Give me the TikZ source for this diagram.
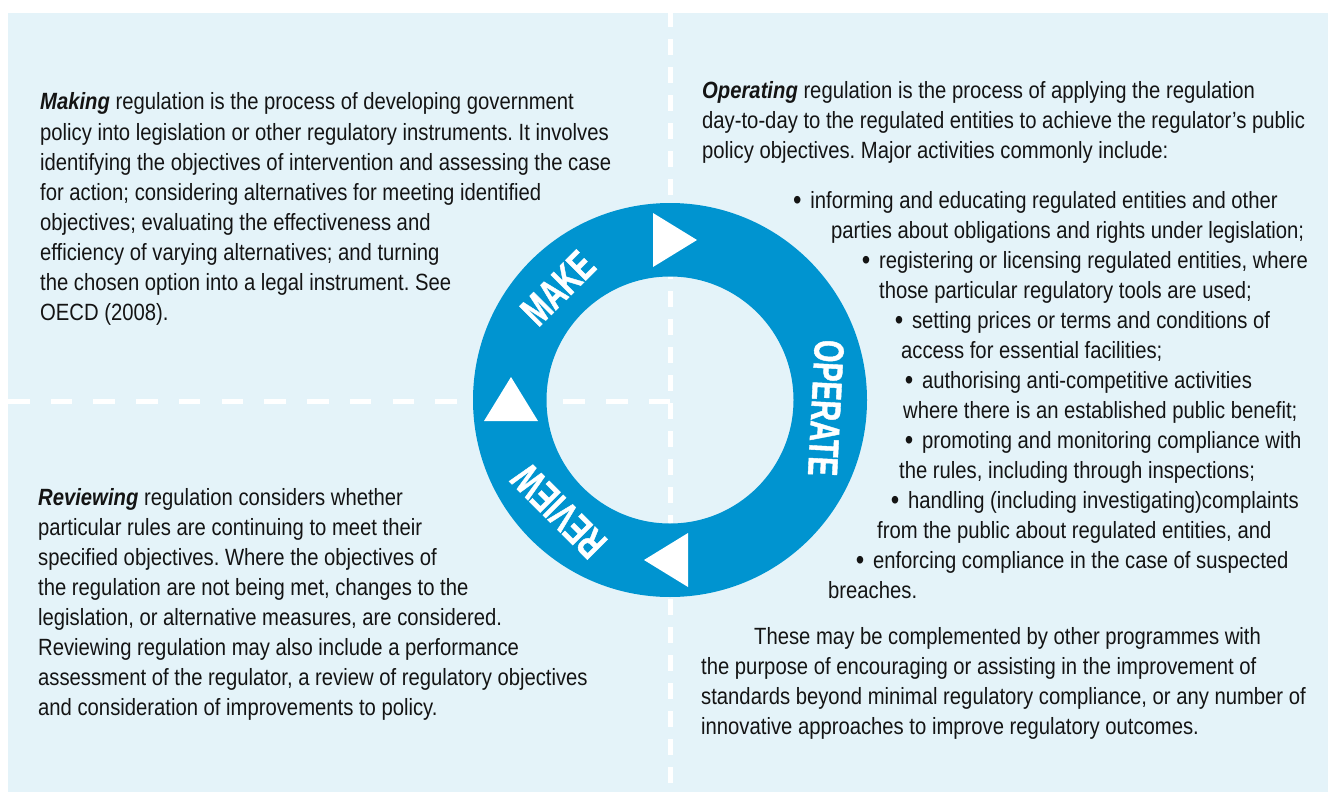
\documentclass[tikz,border=0pt]{standalone}
\usepackage{fontspec}
\setmainfont{Liberation Sans}[FakeStretch=0.862]
\newfontfamily\ringfont{Liberation Sans}[FakeStretch=0.68,FakeBold=1]
\definecolor{bgblue}{RGB}{228,243,249}
\definecolor{ringblue}{RGB}{0,148,208}
\definecolor{ink}{RGB}{20,20,20}
\tikzset{
  txt/.style={anchor=base west, inner sep=0pt, text=ink, font=\fontsize{23.5}{30}\selectfont},
  ringlabel/.style={inner sep=0pt, text=white, font=\ringfont\bfseries\fontsize{42}{42}\selectfont},
  guide/.style={draw=white, line width=5pt},
  arrowtri/.style={fill=white},
}
\frenchspacing
\newcommand{\lead}[1]{\textbf{\textit{#1}}}
\newcommand{\bul}{\raisebox{-1.5pt}{\fontsize{28}{28}\selectfont •}\hspace{8.7pt}}
\begin{document}
\begin{tikzpicture}[x=1pt,y=-1pt]
\useasboundingbox (0,0) rectangle (1328,792);
\fill[bgblue] (8,13) rectangle (1328,792);
% guide lines
\coordinate (vtop) at (670,13);
\coordinate (vbot) at (670,792);
\coordinate (hleft) at (8,401);
\coordinate (hmid) at (670,401);
\draw[guide, dash pattern=on 16pt off 12pt, dash phase=2pt] (vtop) -- (vbot);
\draw[guide, dash pattern=on 21.5pt off 21.23pt] (hleft) -- (hmid);
% ring
\coordinate (c) at (670,400);
\fill[ringblue, even odd rule] (c) circle (197pt) (c) circle (123.5pt);
% arrow triangles
\fill[arrowtri] (653,213) -- (653,267) -- (697,240) -- cycle;
\fill[arrowtri] (484,421) -- (538,421) -- (511,377) -- cycle;
\fill[arrowtri] (688,533) -- (688,587) -- (644,560) -- cycle;
% ring labels
\node[ringlabel, rotate=45] (make) at (558,288) {MAKE};
\node[ringlabel, rotate=-93] (operate) at (826,408) {OPERATE};
\node[ringlabel, rotate=135] (review) at (559,511) {REVIEW};
% Making
\node[txt] (m1) at (40,110) {\lead{Making} regulation is the process of developing government};
\node[txt] (m2) at (40,140) {policy into legislation or other regulatory instruments. It involves};
\node[txt] (m3) at (40,170) {identifying the objectives of intervention and assessing the case};
\node[txt] (m4) at (40,200) {for action; considering alternatives for meeting identified};
\node[txt] (m5) at (40,230) {objectives; evaluating the effectiveness and};
\node[txt] (m6) at (40,260) {efficiency of varying alternatives; and turning};
\node[txt] (m7) at (40,290) {the chosen option into a legal instrument. See};
\node[txt] (m8) at (40,320) {OECD (2008).};
% Reviewing
\node[txt] (r1) at (38,505) {\lead{Reviewing} regulation considers whether};
\node[txt] (r2) at (38,535) {particular rules are continuing to meet their};
\node[txt] (r3) at (38,565) {specified objectives. Where the objectives of};
\node[txt] (r4) at (38,595) {the regulation are not being met, changes to the};
\node[txt] (r5) at (38,625) {legislation, or alternative measures, are considered.};
\node[txt] (r6) at (38,655) {Reviewing regulation may also include a performance};
\node[txt] (r7) at (38,685) {assessment of the regulator, a review of regulatory objectives};
\node[txt] (r8) at (38,715) {and consideration of improvements to policy.};
% Operating
\node[txt] (o1) at (702,98) {\lead{Operating} regulation is the process of applying the regulation};
\node[txt] (o2) at (702,128) {day-to-day to the regulated entities to achieve the regulator’s public};
\node[txt] (o3) at (702,158) {policy objectives. Major activities commonly include:};
\node[txt] (b1) at (793,208) {\bul informing and educating regulated entities and other};
\node[txt] (b2) at (831,238) {parties about obligations and rights under legislation;};
\node[txt] (b3) at (861.7,268) {\bul registering or licensing regulated entities, where};
\node[txt] (b4) at (879,298) {those particular regulatory tools are used;};
\node[txt] (b5) at (894.7,328) {\bul setting prices or terms and conditions of};
\node[txt] (b6) at (901,358) {access for essential facilities;};
\node[txt] (b7) at (904.7,388) {\bul authorising anti-competitive activities};
\node[txt] (b8) at (903,418) {where there is an established public benefit;};
\node[txt] (b9) at (904.7,448) {\bul promoting and monitoring compliance with};
\node[txt] (b10) at (899,478) {the rules, including through inspections;};
\node[txt] (b11) at (890.7,508) {\bul handling (including investigating)complaints};
\node[txt] (b12) at (877,538) {from the public about regulated entities, and};
\node[txt] (b13) at (855.7,568) {\bul enforcing compliance in the case of suspected};
\node[txt] (b14) at (828,598) {breaches.};
% closing paragraph
\node[txt] (c1) at (754,644) {These may be complemented by other programmes with};
\node[txt] (c2) at (701,674) {the purpose of encouraging or assisting in the improvement of};
\node[txt] (c3) at (701,704) {standards beyond minimal regulatory compliance, or any number of};
\node[txt] (c4) at (701,734) {innovative approaches to improve regulatory outcomes.};
\end{tikzpicture}
\end{document}
